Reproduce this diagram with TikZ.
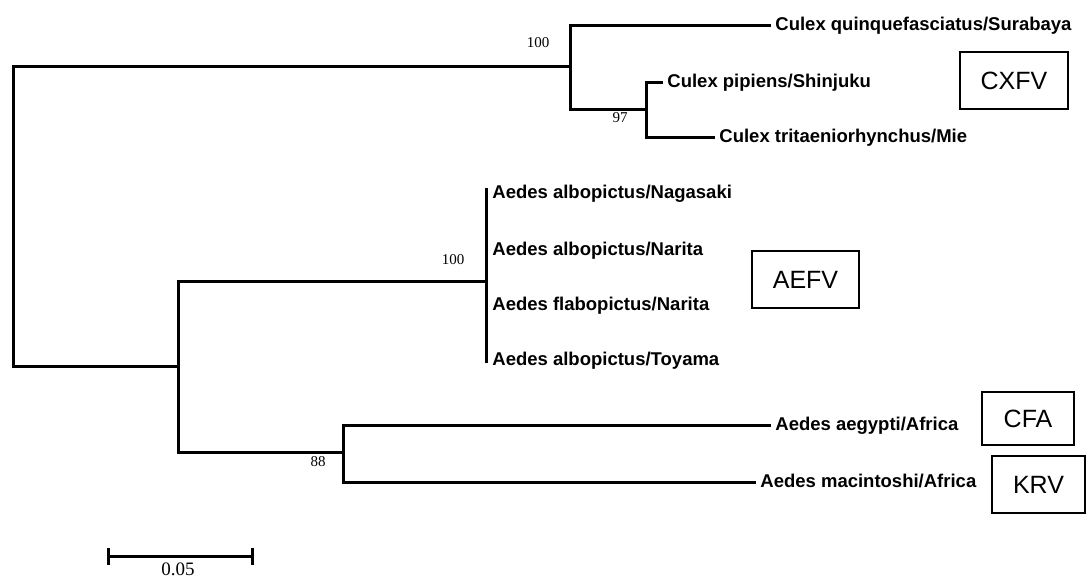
\documentclass[tikz,border=0pt]{standalone}
\usepackage{fontspec}
\setmainfont{Liberation Sans}
\newfontfamily\bootfont{Liberation Serif}
\usetikzlibrary{arrows.meta}

\begin{document}
\begin{tikzpicture}[x=0.5pt,y=-0.5pt,
  branch/.style={line width=1.5pt},
  taxon/.style={anchor=west,inner xsep=2pt,inner ysep=0pt,text height=7pt,text depth=2pt,
    font=\fontsize{9.25}{11}\selectfont\bfseries},
  boot/.style={inner sep=0pt,font=\bootfont\fontsize{7.5}{9}\selectfont},
  virus/.style={draw,line width=1pt,inner sep=0pt,font=\fontsize{12.5}{15}\selectfont}]
  \useasboundingbox (0,0) rectangle (1086,579);
  % internal nodes of the tree
  \coordinate (root) at (13,216);
  \coordinate (cx) at (570,66);
  \coordinate (cp) at (646,109);
  \coordinate (lo) at (178,366);
  \coordinate (ae) at (486,281);
  \coordinate (aetop) at (486,188);
  \coordinate (aebot) at (486,363);
  \coordinate (kr) at (343,452);
  % taxa
  \node[taxon] (quin) at (771,25) {Culex quinquefasciatus/Surabaya};
  \node[taxon] (pip) at (663,82) {Culex pipiens/Shinjuku};
  \node[taxon] (tri) at (715,137) {Culex tritaeniorhynchus/Mie};
  \foreach \n/\y/\t in {nag/193/{Aedes albopictus/Nagasaki},nar/250/{Aedes albopictus/Narita},
      fla/305/{Aedes flabopictus/Narita},toy/360/{Aedes albopictus/Toyama}}
    \node[taxon] (\n) at (488,\y) {\t};
  \node[taxon] (aeg) at (771,425) {Aedes aegypti/Africa};
  \node[taxon] (mac) at (756,482) {Aedes macintoshi/Africa};
  % branches
  \draw[branch] (cx) -| (root) |- (lo);
  \draw[branch] (quin.west) -| (cx) |- (cp);
  \draw[branch] (pip.west) -| (cp) |- (tri.west);
  \draw[branch] (ae) -| (lo) |- (kr);
  \draw[branch] (aetop) -- (aebot);
  \draw[branch] (aeg.west) -| (kr) |- (mac.west);
  % bootstrap values
  \node[boot] (b1) at (538,43) {100};
  \node[boot] (b2) at (620,118) {97};
  \node[boot] (b3) at (453,260) {100};
  \node[boot] (b4) at (318,462) {88};
  % virus groups
  \node[virus,minimum width=54pt,minimum height=28.5pt] (cxfv) at (1014,80.5) {CXFV};
  \node[virus,minimum width=53.5pt,minimum height=28.5pt] (aefv) at (805.5,279.5) {AEFV};
  \node[virus,minimum width=46pt,minimum height=26.5pt] (cfa) at (1028,418.5) {CFA};
  \node[virus,minimum width=46.5pt,minimum height=28.5pt] (krv) at (1038.5,484.5) {KRV};
  % scale bar
  \coordinate (sbl) at (107,556);
  \coordinate (sbr) at (254,556);
  \draw[branch,{Bar[width=8.5pt]}-{Bar[width=8.5pt]}] (sbl) -- (sbr);
  \node[boot,font=\bootfont\fontsize{9.5}{11}\selectfont] (sblab) at (178,569) {0.05};
\end{tikzpicture}
\end{document}
